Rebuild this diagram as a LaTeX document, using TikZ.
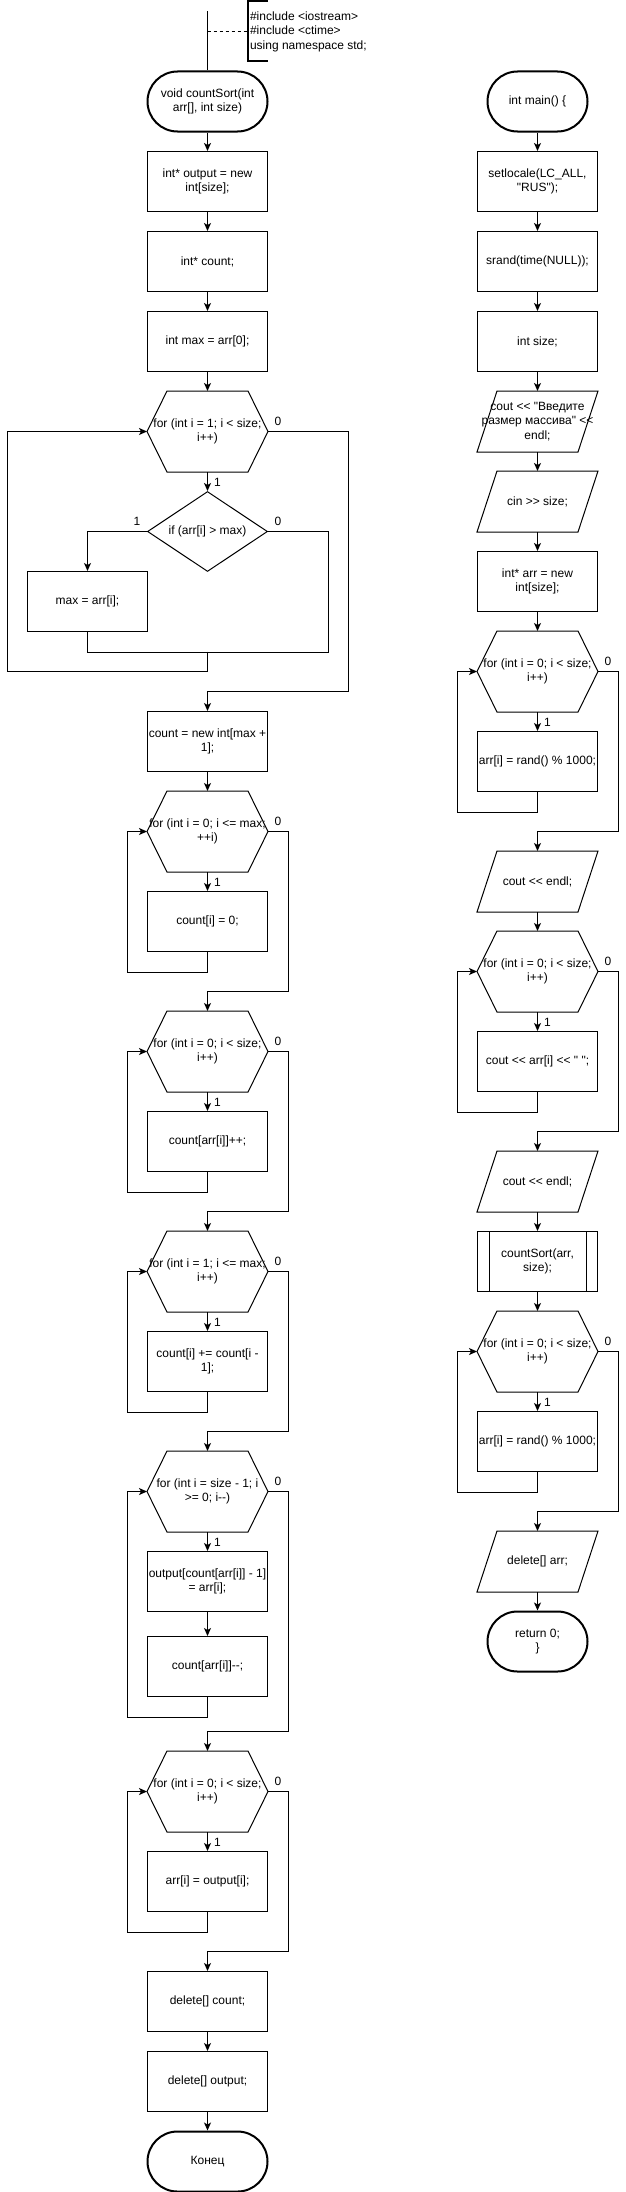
\documentclass[tikz,border=0pt]{standalone}
\usepackage{fontspec}
\setmainfont{Liberation Sans}[Ligatures=TeXOff]
\usetikzlibrary{calc}
\usetikzlibrary{arrows.meta}
\usetikzlibrary{shapes.geometric}

\tikzset{
 txt/.style={font=\fontsize{12}{14.4}\selectfont, align=center, inner sep=0pt},
 block/.style={txt, draw, minimum width=120pt, minimum height=60pt},
 term/.style={txt, draw, line width=2pt, rounded corners=30pt, minimum width=#1, minimum height=60pt},
 term/.default=120pt,
 loopcond/.style={txt, minimum width=120pt, minimum height=80pt},
 io/.style={txt, minimum width=120pt, minimum height=60pt},
 cond/.style={txt, draw, diamond, aspect=1.5, minimum width=120pt, minimum height=80pt},
 num/.style={font=\fontsize{12}{14.4}\selectfont, inner sep=0pt},
}

\begin{document}
\begin{tikzpicture}[x=1pt, y=-1pt, line width=1pt, >={Stealth[length=8pt, width=7pt, inset=2pt]}]
\useasboundingbox (0.5,-1.5) rectangle (626.5,2190.5);

% countSort
\node[term] (t1) at (208,100) {void countSort(int\\arr[], int size)};
\node[block] (b1) at (208,180) {int* output = new\\int[size];};
\node[block] (b2) at (208,260) {int* count;};
\node[block] (b3) at (208,340) {int max = arr[0];};
\node[loopcond] (f1) at (208,430) {for (int i = 1; i < size;\\i++)};
\node[cond] (d1) at (208,530) {if (arr[i] > max)};
\node[block] (b4) at (88,600) {max = arr[i];};
\node[block] (b5) at (208,740) {count = new int[max +\\1];};
\node[loopcond] (f2) at (208,830) {for (int i = 0; i <= max;\\++i)};
\node[block] (b6) at (208,920) {count[i] = 0;};
\node[loopcond] (f3) at (208,1050) {for (int i = 0; i < size;\\i++)};
\node[block] (b7) at (208,1140) {count[arr[i]]++;};
\node[loopcond] (f4) at (208,1270) {for (int i = 1; i <= max;\\i++)};
\node[block] (b8) at (208,1360) {count[i] += count[i -\\1];};
\node[loopcond] (f5) at (208,1490) {for (int i = size - 1; i\\>= 0; i--)};
\node[block] (b9) at (208,1580) {output[count[arr[i]] - 1]\\= arr[i];};
\node[block] (b10) at (208,1665) {count[arr[i]]--;};
\node[loopcond] (f6) at (208,1790) {for (int i = 0; i < size;\\i++)};
\node[block] (b11) at (208,1880) {arr[i] = output[i];};
\node[block] (b12) at (208,2000) {delete[] count;};
\node[block] (b13) at (208,2080) {delete[] output;};
\node[term] (t2) at (208,2160) {Конец};

% header comment
\coordinate (top) at (208,10);
\coordinate (tap) at (208,30);
\coordinate (brk) at (248,30);
\node[txt, align=left, anchor=west] (inc) at (250,30) {\#include <iostream>\\\#include <ctime>\\using namespace std;};
\draw[line width=2pt] (268,0) -- (248,0) -- (248,60) -- (268,60);
\draw[dash pattern=on 3pt off 3pt] (tap) -- (brk);
\draw (top) -- (t1);

% main
\node[term=100pt] (tm) at (538,100) {int main() \{};
\node[block] (r1) at (538,180) {setlocale(LC\_ALL,\\"RUS");};
\node[block] (r2) at (538,260) {srand(time(NULL));};
\node[block] (r3) at (538,340) {int size;};
\node[io] (p1) at (538,420) {cout << "Введите\\размер массива" <<\\endl;};
\node[io] (p2) at (538,500) {cin >> size;};
\node[block] (r4) at (538,580) {int* arr = new\\int[size];};
\node[loopcond] (h1) at (538,670) {for (int i = 0; i < size;\\i++)};
\node[block] (r5) at (538,760) {arr[i] = rand() \% 1000;};
\node[io] (p3) at (538,880) {cout << endl;};
\node[loopcond] (h2) at (538,970) {for (int i = 0; i < size;\\i++)};
\node[block] (r6) at (538,1060) {cout << arr[i] << " ";};
\node[io] (p4) at (538,1180) {cout << endl;};
\node[block] (r7) at (538,1260) {countSort(arr,\\size);};
\node[loopcond] (h3) at (538,1350) {for (int i = 0; i < size;\\i++)};
\node[block] (r8) at (538,1440) {arr[i] = rand() \% 1000;};
\node[io] (p5) at (538,1560) {delete[] arr;};
\node[term=100pt] (tr) at (538,1640) {return 0;\\\}};

% hexagons, parallelograms, subroutine
\foreach \h in {f1,f2,f3,f4,f5,f6,h1,h2,h3}
  \draw (\h.west) -- ([xshift=20pt]\h.north west) -- ([xshift=-20pt]\h.north east) -- (\h.east) -- ([xshift=-20pt]\h.south east) -- ([xshift=20pt]\h.south west) -- cycle;
\foreach \p in {p1,p2,p3,p4,p5}
  \draw ([xshift=20pt]\p.north west) -- (\p.north east) -- ([xshift=-20pt]\p.south east) -- (\p.south west) -- cycle;
\draw ([xshift=12pt]r7.north west) -- ([xshift=12pt]r7.south west)
      ([xshift=-12pt]r7.north east) -- ([xshift=-12pt]r7.south east);

% straight flow
\foreach \a/\b in {t1/b1,b1/b2,b2/b3,b3/f1,f1/d1,b5/f2,f2/b6,f3/b7,f4/b8,f5/b9,b9/b10,f6/b11,b12/b13,b13/t2,
  tm/r1,r1/r2,r2/r3,r3/p1,p1/p2,p2/r4,r4/h1,h1/r5,p3/h2,h2/r6,p4/r7,r7/h3,h3/r8,p5/tr}
  \draw[->] (\a) -- (\b);

% first loop with the if
\coordinate (j1) at (208,650);
\draw[->] (d1.west) -| (b4.north);
\draw (d1.east) -- ++(60,0) |- ($(b4.south)+(0,20)$) -- (b4.south);
\draw[->] (j1) -- ++(0,20) -| ([xshift=-140pt]f1.west) -- (f1.west);
\draw[->] (f1.east) -- ++(80,0) |- ($(b5.north)+(0,-20)$) -- (b5.north);
\node[num] (z1) at ([shift={(10,-10)}]f1.east) {0};
\node[num] (o1) at ([shift={(10,10)}]f1.south) {1};
\node[num] (dy) at ([shift={(-10,-10)}]d1.west) {1};
\node[num] (dn) at ([shift={(10,-10)}]d1.east) {0};

% other loops
\foreach \h/\body/\next in {f2/b6/f3,f3/b7/f4,f4/b8/f5,f5/b10/f6,f6/b11/b12,h1/r5/p3,h2/r6/p4,h3/r8/p5} {
  \draw[->] (\body.south) -- ++(0,20) -| ([xshift=-20pt]\h.west) -- (\h.west);
  \draw[->] (\h.east) -- ++(20,0) |- ($(\next.north)+(0,-20)$) -- (\next.north);
  \node[num] (z\h) at ([shift={(10,-10)}]\h.east) {0};
  \node[num] (o\h) at ([shift={(10,10)}]\h.south) {1};
}
\end{tikzpicture}
\end{document}
